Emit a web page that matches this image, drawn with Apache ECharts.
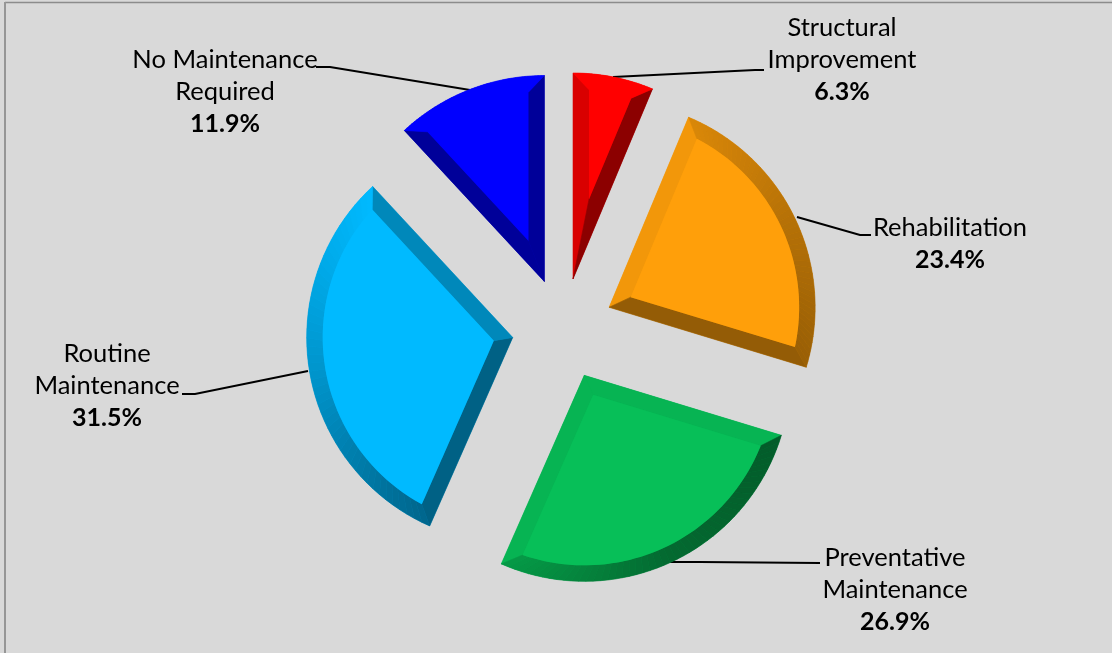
<!DOCTYPE html>
<html><head><meta charset="utf-8">
<style>html,body{margin:0;padding:0;background:#d9d9d9}#c{width:1112px;height:653px}</style>
<script src="https://cdn.jsdelivr.net/npm/echarts@6/dist/echarts.min.js"></script>
</head><body><div id="c"></div>
<script>
const categories = ['Structural Improvement','Rehabilitation','Preventative Maintenance','Routine Maintenance','No Maintenance Required'];
const labelLines = [['Structural','Improvement'],['Rehabilitation'],['Preventative','Maintenance'],['Routine','Maintenance'],['No Maintenance','Required']];
const shares = [6.3,23.4,26.9,31.5,11.9];
const faceColors = ['#ff0000','#ff9f0a','#07bf58','#00baff','#0000ff'];
// bevel brightness per slice: first radial edge, arc start, arc middle, arc end, last radial edge
const bevelShades = [[.85,1,1,1,.55],[.95,.85,.71,.6,.58],[.94,.48,.55,.8,.94],[.52,.55,.8,1,.73],[.6,1,1,1,.6]];
const labelAnchors = [[842,12],[950,212],[895,542],[107,338],[225,44]];
const leaderPoints = [
 [[613,77],[755,70],[764,70]],
 [[797,217],[860,235],[871,235]],
 [[670,562],[700,562],[820,563]],
 [[308,371],[195,394],[182,394]],
 [[470,90],[330,67],[316,67]]
];
const CX=563, CY=329, R=206, EXPLODE=51, BEVEL=16;
function shade(hex,k){
  const n=parseInt(hex.slice(1),16);
  return 'rgb('+[(n>>16)&255,(n>>8)&255,n&255].map(v=>Math.round(v*k)).join(',')+')';
}
const pt=(o,a,r)=>[o[0]+r*Math.sin(a),o[1]-r*Math.cos(a)];
const total=shares.reduce((a,b)=>a+b,0);
function renderBevel(params,api){
  const i=params.dataIndex;
  let before=0; for(let j=0;j<i;j++) before+=shares[j];
  const a0=before/total*2*Math.PI, a1=(before+api.value(0))/total*2*Math.PI, mid=(a0+a1)/2, half=(a1-a0)/2;
  const o=pt([CX,CY],mid,EXPLODE);
  const inA=pt(o,mid,BEVEL/Math.sin(half));
  const d=Math.asin(BEVEL/(R-BEVEL));
  const s=bevelShades[i], c=faceColors[i], kids=[];
  const poly=(points,fill)=>kids.push({type:'polygon',shape:{points},style:{fill,stroke:fill,lineWidth:.6}});
  const N=48, inner=[], outer=[];
  for(let k=0;k<=N;k++){
    const t=k/N;
    outer.push(pt(o,a0+(a1-a0)*t,R));
    inner.push(pt(o,a0+d+(a1-a0-2*d)*t,R-BEVEL));
  }
  poly([o,outer[0],inner[0],inA],shade(c,s[0]));
  poly([o,outer[N],inner[N],inA],shade(c,s[4]));
  for(let k=0;k<N;k++){
    const t=(k+.5)/N;
    const b=t<.5? s[1]+(s[2]-s[1])*t*2 : s[2]+(s[3]-s[2])*(t-.5)*2;
    poly([outer[k],outer[k+1],inner[k+1],inner[k]],shade(c,b));
  }
  kids.push({type:'polygon',shape:{points:[inA].concat(inner)},style:{fill:c}});
  return {type:'group',children:kids};
}
function renderLeader(params){
  return {type:'polyline',shape:{points:leaderPoints[params.dataIndex]},style:{fill:null,stroke:'#000',lineWidth:2}};
}
function renderLabel(params){
  const i=params.dataIndex;
  return {type:'text',x:labelAnchors[i][0],y:labelAnchors[i][1],style:{
    text:labelLines[i].join('\n')+'\n{b|'+shares[i].toFixed(1)+'%}',
    align:'center',verticalAlign:'top',fill:'#000',font:'25.5px Lato',lineHeight:32,
    rich:{b:{font:'bold 25px Lato',lineHeight:32,fill:'#000',align:'center'}}
  }};
}
const chart=echarts.init(document.getElementById('c'),null,{renderer:'canvas'});
chart.setOption({
  animation:false,
  backgroundColor:'#d9d9d9',
  series:[
   {type:'custom',z:1,coordinateSystem:'none',silent:true,renderItem:renderLeader,data:categories.map(n=>[n])},
   {type:'pie',z:2,center:[CX,CY],radius:[0,R],startAngle:90,clockwise:true,silent:true,
    selectedMode:'multiple',selectedOffset:EXPLODE,
    data:categories.map((name,i)=>({name,value:shares[i],selected:true,itemStyle:{color:faceColors[i]}})),
    label:{show:false},labelLine:{show:false}
   },
   {type:'custom',z:3,coordinateSystem:'none',silent:true,renderItem:renderBevel,data:shares.map(v=>[v])},
   {type:'custom',z:4,coordinateSystem:'none',silent:true,renderItem:renderLabel,data:categories.map(n=>[n])}
  ],
  graphic:[
   {type:'line',z:10,silent:true,shape:{x1:5,y1:2.5,x2:1112,y2:2.5},style:{stroke:'#8c8c8c',lineWidth:1.5}},
   {type:'line',z:10,silent:true,shape:{x1:5,y1:2,x2:5,y2:653},style:{stroke:'#969696',lineWidth:2}}
  ]
});
</script></body></html>
